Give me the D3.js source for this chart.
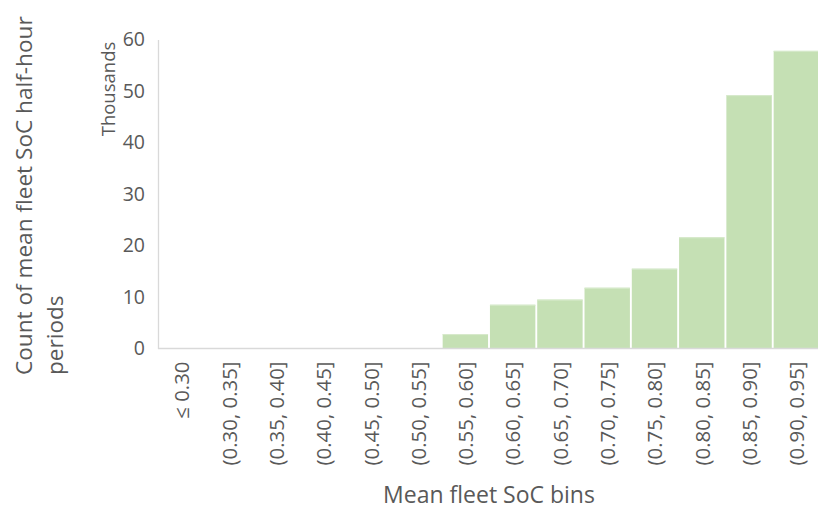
<!DOCTYPE html>
<html>
<head>
<meta charset="utf-8">
<script src="https://cdn.jsdelivr.net/npm/d3@7"></script>
<style>
  html, body { margin: 0; padding: 0; background: #fff; }
  svg { display: block; font-family: "Open Sans", "Segoe UI", sans-serif; }
</style>
</head>
<body>
<svg id="chart" width="818" height="511"></svg>
<script>
// Histogram of mean fleet state-of-charge (SoC) per half-hour period
const bins = ["\u2264 0.30", "(0.30, 0.35]", "(0.35, 0.40]", "(0.40, 0.45]", "(0.45, 0.50]",
  "(0.50, 0.55]", "(0.55, 0.60]", "(0.60, 0.65]", "(0.65, 0.70]", "(0.70, 0.75]",
  "(0.75, 0.80]", "(0.80, 0.85]", "(0.85, 0.90]", "(0.90, 0.95]"];
const counts = [0, 0, 0, 0, 0, 0, 2800, 8500, 9500, 11800, 15500, 21600, 49200, 57800];
const yTicks = [0, 10000, 20000, 30000, 40000, 50000, 60000];

const svg = d3.select("#chart");
const plot = { left: 158, right: 820, top: 39.5, bottom: 348.5 };
const textColor = "#595959";
const axisColor = "#d9d9d9";

const x = d3.scaleBand().domain(bins).range([plot.left, plot.right]).paddingInner(0.04).paddingOuter(0.02);
const y = d3.scaleLinear().domain([0, 60000]).range([plot.bottom, plot.top]);

// Bars
svg.append("g").selectAll("rect").data(bins).join("rect")
  .attr("x", d => x(d))
  .attr("width", x.bandwidth())
  .attr("y", (d, i) => y(counts[i]))
  .attr("height", (d, i) => y(0) - y(counts[i]))
  .attr("fill", "#c5e0b4");

// Light edge along each bar top
svg.append("g").selectAll("line").data(bins.filter((d, i) => counts[i] > 0)).join("line")
  .attr("x1", d => x(d)).attr("x2", d => x(d) + x.bandwidth())
  .attr("y1", d => y(counts[bins.indexOf(d)]) + 0.5)
  .attr("y2", d => y(counts[bins.indexOf(d)]) + 0.5)
  .attr("stroke", "#d8eacd").attr("stroke-width", 1);

// Y axis: thousands
const yAxis = svg.append("g")
  .attr("transform", `translate(${plot.left},0)`)
  .call(d3.axisLeft(y).tickValues(yTicks).tickFormat(d => d / 1000).tickSize(0).tickPadding(13));
yAxis.select(".domain").attr("stroke", axisColor).attr("stroke-width", 1.3);
yAxis.selectAll("text").attr("fill", textColor).style("font-size", "19.5px")
  .style("font-family", "'Open Sans', sans-serif");

// X axis with rotated bin labels
const xAxis = svg.append("g")
  .attr("transform", `translate(0,${plot.bottom})`)
  .call(d3.axisBottom(x).tickSize(0).tickPadding(0));
xAxis.select(".domain").attr("d", `M${plot.left},0H${plot.right}`)
  .attr("stroke", axisColor).attr("stroke-width", 1.5);
xAxis.selectAll(".tick text")
  .attr("fill", textColor)
  .style("font-size", "20.4px")
  .style("font-family", "'Open Sans', sans-serif")
  .attr("text-anchor", "end")
  .attr("transform", "rotate(-90)")
  .attr("x", -13)
  .attr("y", 0)
  .attr("dy", "0.38em");

// Display-unit label
svg.append("text")
  .attr("transform", "translate(115,89) rotate(-90)")
  .attr("text-anchor", "middle")
  .attr("fill", textColor)
  .style("font-size", "18.5px")
  .text("Thousands");

// Axis titles
const yTitle = svg.append("text")
  .attr("transform", "translate(32,375) rotate(-90)")
  .attr("text-anchor", "start")
  .attr("fill", textColor)
  .style("font-size", "22.6px");
yTitle.append("tspan").attr("x", 0).attr("y", 0).text("Count of mean fleet SoC half-hour");
yTitle.append("tspan").attr("x", 0).attr("y", 31).text("periods");

svg.append("text")
  .attr("x", (plot.left + plot.right) / 2)
  .attr("y", 503)
  .attr("text-anchor", "middle")
  .attr("fill", textColor)
  .style("font-size", "23px")
  .text("Mean fleet SoC bins");
</script>
</body>
</html>
